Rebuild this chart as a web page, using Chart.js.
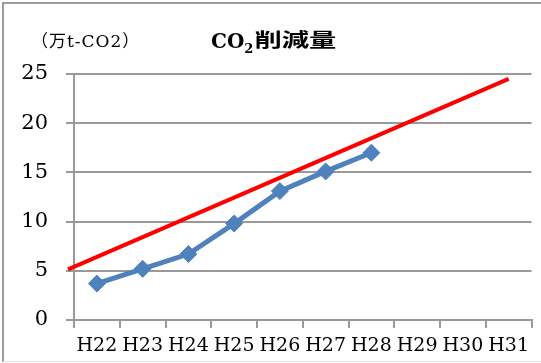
<!DOCTYPE html>
<html>
<head>
<meta charset="utf-8">
<script src="https://cdn.jsdelivr.net/npm/chart.js@4"></script>
<style>
  html, body { margin: 0; padding: 0; background: #fff; }
  #wrap { position: relative; width: 541px; height: 363px; overflow: hidden; }
  #wrap canvas { position: absolute; left: 0; top: 0; }
  #frame {
    position: absolute; left: 2px; top: 2px; width: 600px; height: 357px;
    border-left: 2px solid #9c9c9c; border-top: 2px solid #9c9c9c;
    border-bottom: 1px solid #e2e2e2; pointer-events: none;
  }
</style>
</head>
<body>
<div id="wrap">
  <canvas id="chart" width="541" height="363"></canvas>
  <div id="frame"></div>
</div>
<script>
// Fiscal years on the horizontal axis
const years = ['H22', 'H23', 'H24', 'H25', 'H26', 'H27', 'H28', 'H29', 'H30', 'H31'];
// CO2 reduction achieved per year (10,000 t-CO2)
const reductions = [3.7, 5.2, 6.7, 9.8, 13.1, 15.1, 17.0];
// Target line: value where it leaves the axis and value reached at H31
const targetStartPos = -0.13;
const targetStart = 5.15;
const targetEnd = 24.5;
// Vertical axis
const yMin = 0;
const yMax = 25;
const yStep = 5;
// Texts
const titleMain = 'CO';
const titleSub = '2';
const titleTail = '削減量';
const unitLabel = '（万t-CO2）';

const GRID = '#9a9a9a';
const SERIF = '"DejaVu Serif", "Liberation Serif", serif';

const titlePlugin = {
  id: 'titleTexts',
  afterDraw(chart) {
    const ctx = chart.ctx;
    ctx.save();
    ctx.fillStyle = '#000';
    ctx.textBaseline = 'alphabetic';
    ctx.textAlign = 'left';

    // unit label
    ctx.font = '17px ' + SERIF + ', "Noto Sans CJK JP"';
    if ('letterSpacing' in ctx) ctx.letterSpacing = '1px';
    ctx.fillText(unitLabel, 31, 47);
    if ('letterSpacing' in ctx) ctx.letterSpacing = '0px';

    // title: CO + subscript 2 + kanji
    let x = 211;
    ctx.font = 'bold 20px ' + SERIF;
    ctx.fillText(titleMain, x, 48);
    x += ctx.measureText(titleMain).width;
    ctx.font = 'bold 13px ' + SERIF;
    ctx.fillText(titleSub, x, 53);
    x += ctx.measureText(titleSub).width + 1;
    ctx.font = 'bold 19px "Noto Sans CJK JP"';
    const w = ctx.measureText(titleTail).width;
    ctx.translate(x, 47);
    ctx.scale(82 / w, 1);
    ctx.fillText(titleTail, 0, 0);
    ctx.restore();
  }
};

new Chart(document.getElementById('chart'), {
  type: 'line',
  data: {
    labels: years,
    datasets: [
      {
        label: '目標',
        data: [
          { x: targetStartPos, y: targetStart },
          { x: years.length - 0.5, y: targetEnd }
        ],
        xAxisID: 'xt',
        borderColor: '#ff0000',
        borderWidth: 4,
        pointRadius: 0,
        fill: false,
        clip: false,
        order: 2
      },
      {
        label: '削減量',
        data: reductions,
        xAxisID: 'x',
        borderColor: '#4f81bd',
        backgroundColor: '#4f81bd',
        borderWidth: 5,
        pointStyle: 'rectRot',
        pointRadius: 8.5,
        pointBorderWidth: 1,
        pointBorderColor: '#4f81bd',
        pointBackgroundColor: '#4f81bd',
        fill: false,
        order: 1
      }
    ]
  },
  options: {
    responsive: false,
    animation: false,
    devicePixelRatio: 1,
    layout: { padding: { top: 74, right: 9, bottom: 0, left: 0 } },
    plugins: {
      legend: { display: false },
      title: { display: false },
      tooltip: { enabled: false }
    },
    scales: {
      x: {
        type: 'category',
        offset: true,
        grid: {
          offset: true,
          drawOnChartArea: false,
          drawTicks: true,
          tickLength: 8,
          color: GRID,
          lineWidth: 2
        },
        border: { display: true, color: GRID, width: 2 },
        ticks: {
          color: '#000',
          font: { family: SERIF, size: 19 },
          padding: 7,
          maxRotation: 0,
          autoSkip: false
        },
        afterFit(scale) { scale.height = 43; }
      },
      xt: {
        type: 'linear',
        display: false,
        min: 0,
        max: years.length
      },
      y: {
        min: yMin,
        max: yMax,
        ticks: {
          stepSize: yStep,
          color: '#000',
          font: { family: SERIF, size: 21 },
          padding: 18
        },
        grid: {
          color: GRID,
          lineWidth: 2,
          drawTicks: true,
          tickLength: 8
        },
        border: { display: true, color: GRID, width: 2 },
        afterFit(scale) { scale.width = 74; }
      }
    }
  },
  plugins: [titlePlugin]
});
</script>
</body>
</html>
